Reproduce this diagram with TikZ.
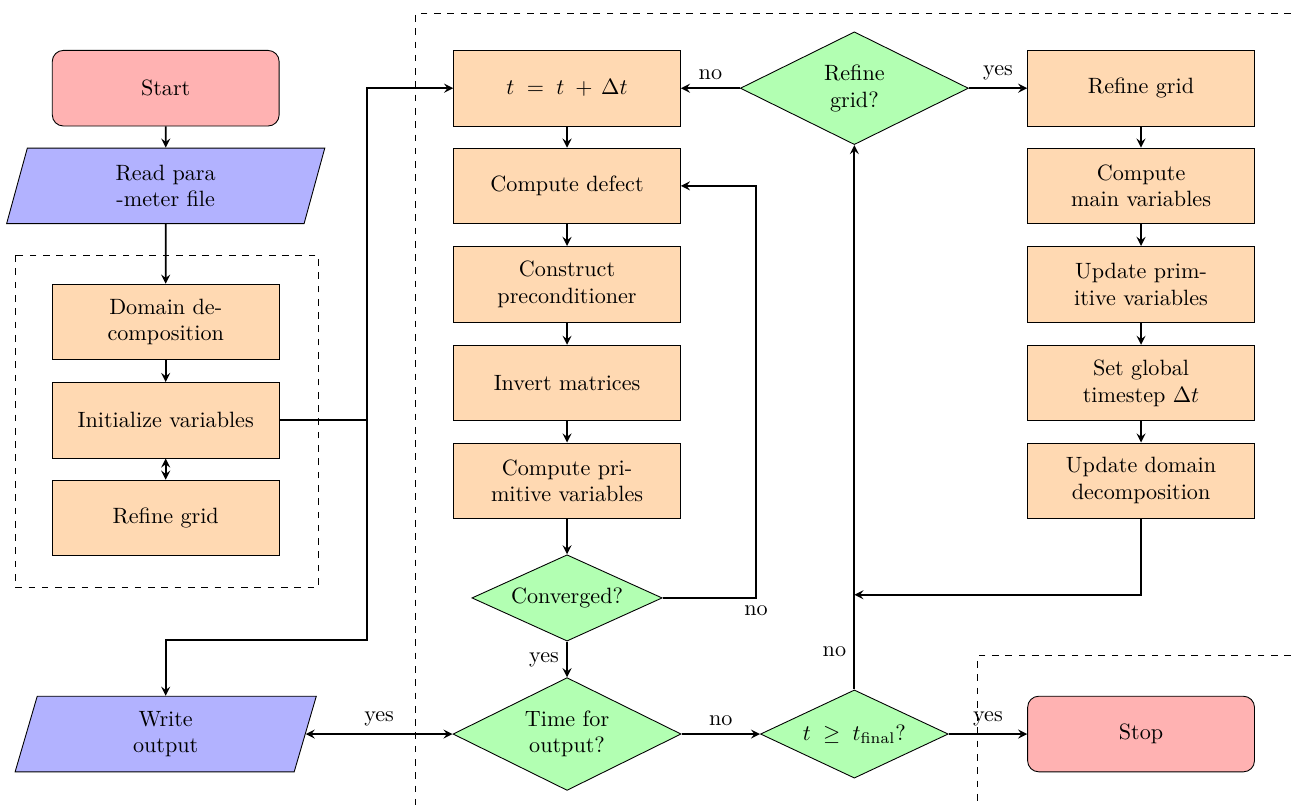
\documentclass[tikz,border=0pt]{standalone}
\usepackage{amsmath,amssymb}
\usetikzlibrary{shapes.geometric}

\tikzset{
  term/.style={rectangle, rounded corners=5pt, draw, fill=red!30,
    minimum width=3.6cm, minimum height=1.2cm, align=center},
  proc/.style={rectangle, draw, fill=orange!30,
    minimum width=3.6cm, minimum height=1.2cm, align=center},
  inout/.style={trapezium, trapezium left angle=70, trapezium right angle=110,
    trapezium stretches body, draw, fill=blue!30, minimum height=1.2cm, align=center},
  decide/.style={diamond, aspect=2, draw, fill=green!30, inner sep=1pt, align=center},
  link/.style={thick, ->, >=stealth},
}

\begin{document}
\begin{tikzpicture}
\useasboundingbox (0,0) rectangle (20.49,-12.78);

% setup
\node[term] (start) at (2.63,-1.40) {Start};
\node[inout, minimum width=5.05cm] (readpar) at (2.63,-2.95) {Read para\\-meter file};
\node[proc] (domdec) at (2.63,-5.11) {Domain de-\\composition};
\node[proc] (initvar) at (2.63,-6.67) {Initialize variables};
\node[proc] (initgrid) at (2.63,-8.22) {Refine grid};
\node[inout, minimum width=4.78cm] (writeout) at (2.63,-11.65) {Write\\output};

% time step
\node[proc] (tstep) at (9.00,-1.40) {$t \;=\; t \;+\, \Delta t$};
\node[proc] (defect) at (9.00,-2.95) {Compute defect};
\node[proc] (precond) at (9.00,-4.51) {Construct\\preconditioner};
\node[proc] (invert) at (9.00,-6.08) {Invert matrices};
\node[proc] (primvar) at (9.00,-7.63) {Compute pri-\\mitive variables};
\node[decide, aspect=2.2, minimum width=3.02cm, minimum height=1.37cm] (converged) at (9.00,-9.49) {Converged?};
\node[decide, minimum width=3.62cm, minimum height=1.79cm] (outtime) at (9.00,-11.65) {Time for\\output?};

\node[decide, minimum width=3.62cm, minimum height=1.79cm] (regrid) at (13.56,-1.40) {Refine\\grid?};
\node[decide, minimum width=2.98cm, minimum height=1.40cm] (tfinal) at (13.56,-11.65) {$t \;\geq\; t_{\mathrm{final}}$?};

% regridding
\node[proc] (refine) at (18.11,-1.40) {Refine grid};
\node[proc] (mainvar) at (18.11,-2.95) {Compute\\main variables};
\node[proc] (updprim) at (18.11,-4.51) {Update prim-\\itive variables};
\node[proc] (dtglob) at (18.11,-6.08) {Set global\\timestep $\Delta t$};
\node[proc] (upddom) at (18.11,-7.63) {Update domain\\decomposition};
\node[term] (stop) at (18.11,-11.65) {Stop};

% frames
\draw[dashed] (0.24,-4.05) rectangle (5.05,-9.32);
\draw[dashed] (20.49,-0.21) -- (6.60,-0.21) -- (6.60,-12.78);
\draw[dashed] (20.49,-10.40) -- (15.52,-10.40) -- (15.52,-12.78);

\coordinate (split) at (5.83,-6.67);
\coordinate (drop) at (5.83,-10.16);
\coordinate (convloop) at (12.00,-9.49);
\coordinate (merge) at (13.56,-9.44);

\draw[link] (start) -- (readpar);
\draw[link] (readpar) -- (domdec);
\draw[link] (domdec) -- (initvar);
\draw[thick, <->, >=stealth] (initvar) -- (initgrid);
\draw[thick] (initvar) -- (split);
\draw[link] (split) |- (tstep);
\draw[link] (split) -- (drop) -| (writeout);

\draw[link] (tstep) -- (defect);
\draw[link] (defect) -- (precond);
\draw[link] (precond) -- (invert);
\draw[link] (invert) -- (primvar);
\draw[link] (primvar) -- (converged);
\draw[link] (converged) -- (convloop) |- (defect);
\node[below] at (convloop) {no};
\draw[link] (converged) -- node[left] {yes} (outtime);

\draw[thick, <->, >=stealth] (outtime) -- node[above] {yes} (writeout);
\draw[link] (outtime) -- node[above] {no} (tfinal);
\draw[link] (tfinal) -- node[above] {yes} (stop);
\draw[link] (tfinal) -- node[left, pos=0.07] {no} (regrid);

\draw[link] (regrid) -- node[above] {no} (tstep);
\draw[link] (regrid) -- node[above] {yes} (refine);
\draw[link] (refine) -- (mainvar);
\draw[link] (mainvar) -- (updprim);
\draw[link] (updprim) -- (dtglob);
\draw[link] (dtglob) -- (upddom);
\draw[link] (upddom) |- (merge);
\end{tikzpicture}
\end{document}
